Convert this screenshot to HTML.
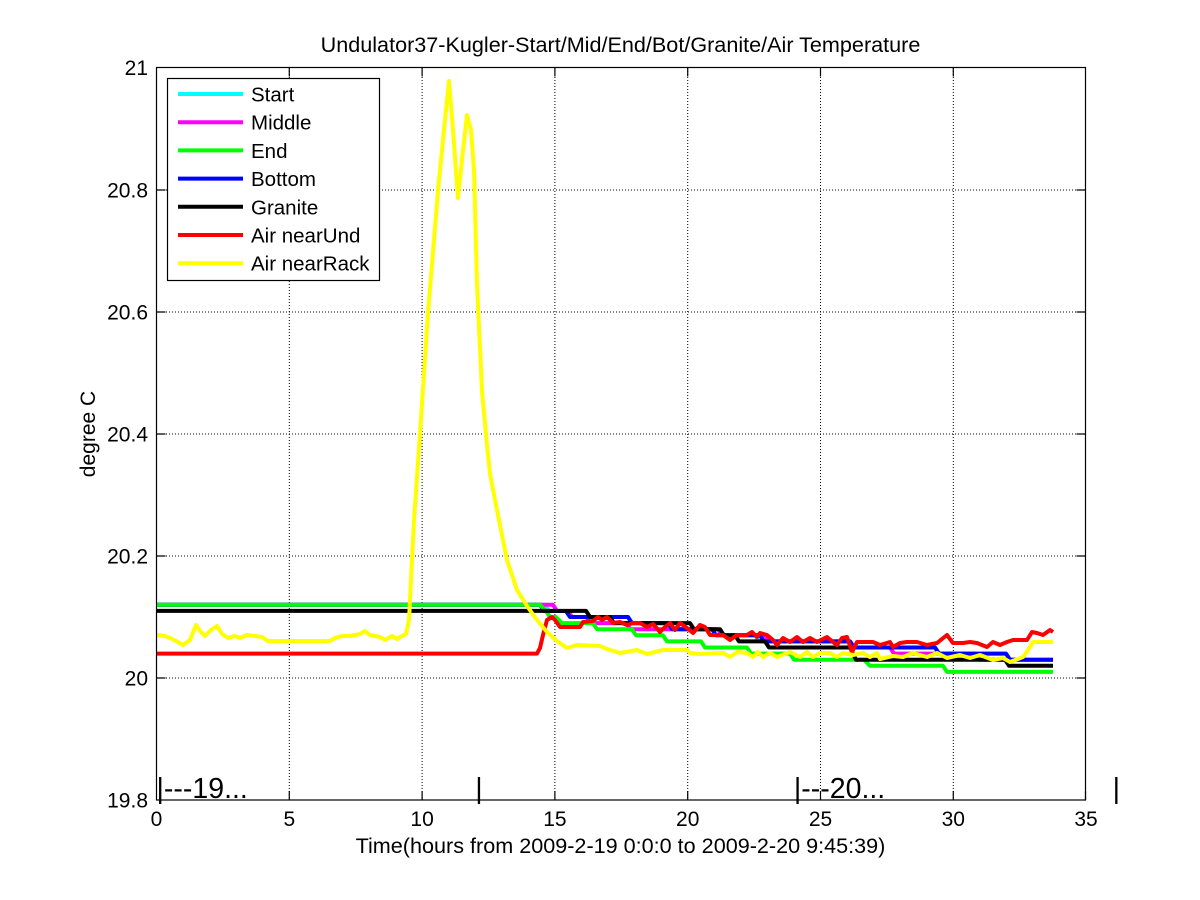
<!DOCTYPE html>
<html><head><meta charset="utf-8"><style>
html,body{margin:0;padding:0;background:#fff;}
svg{display:block;font-family:"Liberation Sans",Arial,sans-serif;}
</style></head><body>
<svg width="1200" height="900" viewBox="0 0 1200 900" xmlns="http://www.w3.org/2000/svg">
<rect width="1200" height="900" fill="#fff"/>
<!-- grid -->
<g stroke="#000" stroke-width="1" stroke-dasharray="1,2" fill="none">
<line x1="289.3" y1="68" x2="289.3" y2="800"/>
<line x1="422.1" y1="68" x2="422.1" y2="800"/>
<line x1="554.9" y1="68" x2="554.9" y2="800"/>
<line x1="687.7" y1="68" x2="687.7" y2="800"/>
<line x1="820.5" y1="68" x2="820.5" y2="800"/>
<line x1="953.3" y1="68" x2="953.3" y2="800"/>
<line x1="157" y1="678" x2="1085" y2="678"/>
<line x1="157" y1="556" x2="1085" y2="556"/>
<line x1="157" y1="434" x2="1085" y2="434"/>
<line x1="157" y1="312" x2="1085" y2="312"/>
<line x1="157" y1="190" x2="1085" y2="190"/>
</g>
<!-- ticks -->
<g stroke="#000" stroke-width="1.2">
<path d="M289.3 800v-9M422.1 800v-9M554.9 800v-9M687.7 800v-9M820.5 800v-9M953.3 800v-9M1085.5 800v-9
M289.3 67.5v9M422.1 67.5v9M554.9 67.5v9M687.7 67.5v9M820.5 67.5v9M953.3 67.5v9
M156.5 678h9M156.5 556h9M156.5 434h9M156.5 312h9M156.5 190h9
M1085.5 678h-9M1085.5 556h-9M1085.5 434h-9M1085.5 312h-9M1085.5 190h-9"/>
</g>
<!-- series -->
<g fill="none" stroke-width="4" stroke-linejoin="round">
<polyline stroke="#00ffff" points="156.5,604.8 545,604.8 549,611 566,611 570,617 628,617 632,623.1 668,623.1 672,629.2 712,629.2 716,635.3 755,635.3 759,641.4 850,641.4 854,647.5 935,647.5 939,653.6 1006,653.6 1010,659.7 1053,659.7"/>
<polyline stroke="#ff00ff" points="156.5,604.8 553,604.8 557,611 568,611 572,617 587,617 590,623.1 627,623.1 630,629.2 718,629.2 722,635.3 765,635.3 769,641.4 850,641.4 854,647.5 890,647.5 894,653.6 975,653.6 979,659.7 1053,659.7"/>
<polyline stroke="#0000ff" points="156.5,604.8 540,604.8 544,611 566,611 570,617 628,617 632,623.1 668,623.1 672,629.2 712,629.2 716,635.3 760,635.3 764,641.4 850,641.4 854,647.5 935,647.5 939,653.6 1006,653.6 1010,659.7 1053,659.7"/>
<polyline stroke="#00ff00" points="156.5,604.8 540,604.8 546,611 550,617 556,617 562,623.1 593,623.1 597,629.2 632,629.2 636,635.3 663,635.3 667,641.4 701,641.4 705,647.5 747,647.5 751,653.6 790,653.6 794,659.7 864,659.7 870,665.8 943,665.8 947,671.9 1053,671.9"/>
<polyline stroke="#000000" points="156.5,610.9 586,610.9 590,617 610,617 614,623.1 690,623.1 694,629.2 720,629.2 724,635.3 735,635.3 739,641.4 765,641.4 769,647.5 850,647.5 856,659.7 1005,659.7 1009,665.8 1053,665.8"/>
<polyline stroke="#ff0000" points="156.5,653.6 537,653.6 540,648 543,635 547,620 552,617 555,620 560,627 580,627 583,622 593,621 598,617 602,620 607,617 613,623 620,622 627,625 633,623 640,623 647,627 653,624 660,632 665,627 670,623 675,630 680,623 687,628 693,633 700,625 705,627 710,635 723,635 730,640 737,635 747,635 752,632 757,637 760,633 767,635 773,640 777,645 783,638 790,642 797,637 803,642 810,638 817,642 827,637 833,642 837,645 842,638 847,637 852,652 857,642 873,642 880,645 890,642 893,647 900,643 907,642 917,642 927,645 937,643 947,635 953,643 963,643 970,642 977,643 987,647 993,642 1000,645 1007,642 1013,640 1027,640 1032,632 1037,633 1043,635 1050,630 1053,632"/>
<polyline stroke="#ffff00" points="156.5,635 165,636 170,638 176,641 183,645 190,640 196,625 201,632 205,636 211,630 217,626 222,634 228,638 235,636 240,638 247,635 255,636 262,637 268,641 330,641 335,638 342,636 350,636 360,634 365,631 370,635 380,637 385,640 392,636 397,639 402,636 406,634 409,620 414,520 420,434 428,313 438,191 444,130 449,81 453,130 458,198 462,160 467,115 471,130 474,170 477,284 482,391 487,445 490,474 497,510 503,540 507,560 512,575 517,590 527,606 537,620 547,632 557,641 567,648 577,645 600,646 607,649 620,653 637,650 647,654 663,650 687,650 690,653 700,654 723,653 730,657 737,652 747,653 753,657 758,652 763,657 770,653 777,657 790,652 800,657 807,652 813,657 820,653 830,653 837,657 843,653 853,655 863,653 870,657 877,653 880,659 893,656 903,657 913,653 927,657 937,653 947,658 960,655 970,658 980,655 993,660 1003,658 1010,662 1023,657 1028,650 1033,642 1053,642"/>
</g>
<!-- axes box -->
<rect x="156.5" y="67.5" width="929" height="732.5" fill="none" stroke="#000" stroke-width="1.2"/>
<!-- legend -->
<rect x="167.5" y="78.5" width="212" height="202" fill="#fff" stroke="#000" stroke-width="1.2"/>
<g stroke-width="4">
<line x1="178" y1="94" x2="243" y2="94" stroke="#00ffff"/>
<line x1="178" y1="122.2" x2="243" y2="122.2" stroke="#ff00ff"/>
<line x1="178" y1="150.4" x2="243" y2="150.4" stroke="#00ff00"/>
<line x1="178" y1="178.6" x2="243" y2="178.6" stroke="#0000ff"/>
<line x1="178" y1="206.8" x2="243" y2="206.8" stroke="#000000"/>
<line x1="178" y1="235" x2="243" y2="235" stroke="#ff0000"/>
<line x1="178" y1="263.2" x2="243" y2="263.2" stroke="#ffff00"/>
</g>
<g font-size="20.5" fill="#000">
<text x="251" y="101.5">Start</text>
<text x="251" y="129.7">Middle</text>
<text x="251" y="157.9">End</text>
<text x="251" y="186.1">Bottom</text>
<text x="251" y="214.3">Granite</text>
<text x="251" y="242.5">Air nearUnd</text>
<text x="251" y="270.7">Air nearRack</text>
</g>
<!-- tick labels -->
<g font-size="21" fill="#000" text-anchor="end">
<text x="148" y="75">21</text>
<text x="148" y="197.5">20.8</text>
<text x="148" y="319.5">20.6</text>
<text x="148" y="441.5">20.4</text>
<text x="148" y="563.5">20.2</text>
<text x="148" y="685.5">20</text>
<text x="148" y="807.5">19.8</text>
</g>
<g font-size="21" fill="#000" text-anchor="middle">
<text x="156.5" y="826">0</text>
<text x="289.3" y="826">5</text>
<text x="422.1" y="826">10</text>
<text x="554.9" y="826">15</text>
<text x="687.7" y="826">20</text>
<text x="820.5" y="826">25</text>
<text x="953.3" y="826">30</text>
<text x="1086" y="826">35</text>
<text x="620.5" y="853" font-size="21.6">Time(hours from 2009-2-19 0:0:0 to 2009-2-20 9:45:39)</text>
<text x="620.5" y="52" font-size="21.6">Undulator37-Kugler-Start/Mid/End/Bot/Granite/Air Temperature</text>
<text transform="translate(95,434) rotate(-90)" x="0" y="0">degree C</text>
</g>
<!-- day markers -->
<g font-size="28.5" fill="#000">
<text x="156.5" y="798">|---19...</text>
<text x="475.2" y="798">|</text>
<text x="793.9" y="798">|---20...</text>
<text x="1112.6" y="798">|</text>
</g>
</svg>
</body></html>
